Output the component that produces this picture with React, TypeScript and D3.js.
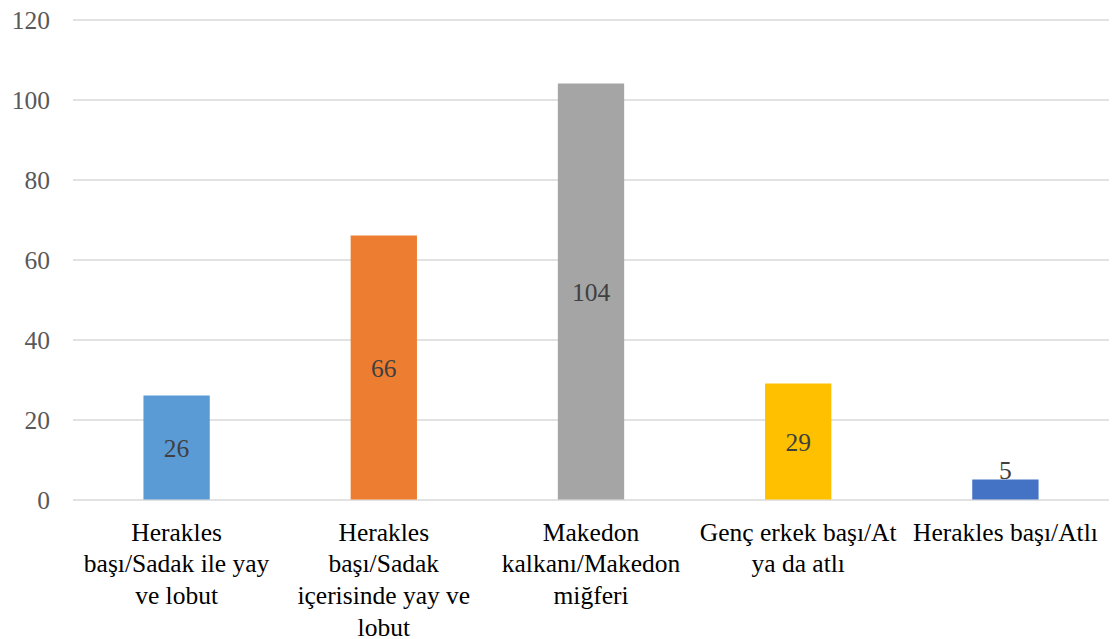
import { useEffect, useRef } from "react";
import * as d3 from "d3";

const categories = [
  "Herakles başı/Sadak ile yay ve lobut",
  "Herakles başı/Sadak içerisinde yay ve lobut",
  "Makedon kalkanı/Makedon miğferi",
  "Genç erkek başı/At ya da atlı",
  "Herakles başı/Atlı",
];
const labelLines = [
  ["Herakles", "başı/Sadak ile yay", "ve lobut"],
  ["Herakles", "başı/Sadak", "içerisinde yay ve", "lobut"],
  ["Makedon", "kalkanı/Makedon", "miğferi"],
  ["Genç erkek başı/At", "ya da atlı"],
  ["Herakles başı/Atlı"],
];
const values = [26, 66, 104, 29, 5];
const colors = ["#5B9BD5", "#ED7D31", "#A5A5A5", "#FFC000", "#4472C4"];
const yTicks = [0, 20, 40, 60, 80, 100, 120];

export default function App() {
  const ref = useRef<SVGSVGElement>(null);
  const width = 1119;
  const height = 639;
  const left = 73;
  const right = 1109;
  const top = 19.5;
  const bottom = 499.5;
  const font = "Liberation Serif, Times New Roman, DejaVu Serif, serif";
  const fs = 25.5;

  const x = d3.scaleBand<string>().domain(categories).range([left, right]).paddingInner(0.68).paddingOuter(0.34);
  const y = d3.scaleLinear().domain([0, 120]).range([bottom, top]);

  useEffect(() => {
    const svg = d3.select(ref.current);
    svg.selectAll("*").remove();

    const yAxis = svg.append("g").attr("transform", `translate(${left},0)`)
      .call(d3.axisLeft(y).tickValues(yTicks).tickSize(-(right - left)).tickPadding(23));
    yAxis.attr("font-family", null).attr("font-size", null);
    yAxis.select(".domain").remove();
    yAxis.selectAll(".tick line").attr("stroke", "#d9d9d9").attr("stroke-width", 1.5);
    yAxis.selectAll(".tick text")
      .attr("fill", "#595959")
      .style("font-family", font)
      .style("font-size", fs + "px")
      .attr("dy", "0.34em");

    svg.append("g").selectAll("rect").data(values).join("rect")
      .attr("x", (d, i) => x(categories[i])!)
      .attr("width", x.bandwidth())
      .attr("y", d => y(d))
      .attr("height", d => y(0) - y(d))
      .attr("fill", (d, i) => colors[i]);

    svg.append("g").selectAll("text").data(values).join("text")
      .attr("x", (d, i) => x(categories[i])! + x.bandwidth() / 2)
      .attr("y", d => {
        const h = y(0) - y(d);
        return h < 24 ? y(d) - 1 : (y(d) + y(0)) / 2 + 9.5;
      })
      .attr("text-anchor", "middle")
      .attr("fill", "#404040")
      .style("font-family", font)
      .style("font-size", fs + "px")
      .text(d => d);

    const xl = svg.append("g");
    labelLines.forEach((lines, i) => {
      const t = xl.append("text")
        .attr("x", x(categories[i])! + x.bandwidth() / 2)
        .attr("y", 540.5)
        .attr("text-anchor", "middle")
        .attr("fill", "#000")
        .style("font-family", font)
        .style("font-size", fs + "px");
      lines.forEach((ln, j) => {
        t.append("tspan")
          .attr("x", x(categories[i])! + x.bandwidth() / 2)
          .attr("dy", j === 0 ? 0 : 31.8)
          .text(ln);
      });
    });
  });

  return (
    <svg ref={ref} width={width} height={height}
      style={{ position: "absolute", left: 0, top: 0, background: "#fff" }} />
  );
}
